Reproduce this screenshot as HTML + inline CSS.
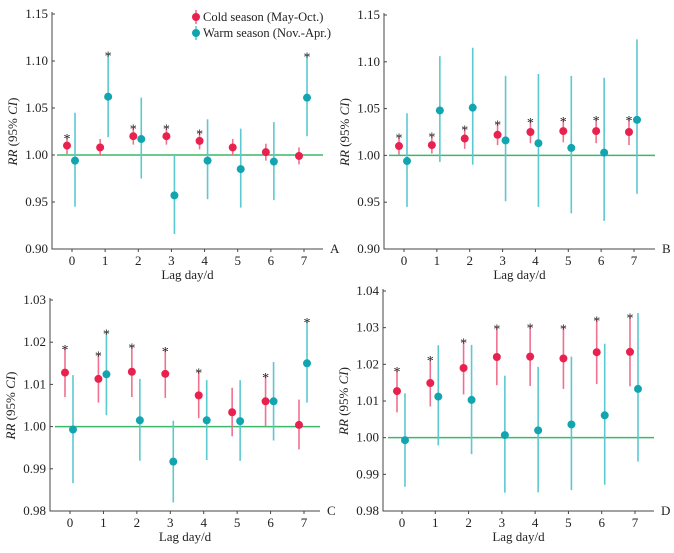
<!DOCTYPE html>
<html><head><meta charset="utf-8"><style>
body{margin:0;background:#fff}
svg text{font-family:"Liberation Serif","Times New Roman",serif;fill:#222}
</style></head><body>
<svg id="c" width="674" height="548" font-family="Liberation Serif, serif"></svg>
<script>
const lags=[0,1,2,3,4,5,6,7];
const aColdM=[1.010,1.008,1.020,1.020,1.015,1.008,1.003,0.999];
const aColdL=[1.001,0.999,1.011,1.011,1.006,0.999,0.994,0.990];
const aColdH=[1.019,1.017,1.029,1.029,1.024,1.017,1.012,1.008];
const aColdS=[1,0,1,1,1,0,0,0];
const aWarmM=[0.994,1.062,1.017,0.957,0.994,0.985,0.993,1.061];
const aWarmL=[0.945,1.019,0.975,0.916,0.953,0.944,0.952,1.020];
const aWarmH=[1.045,1.107,1.061,1.000,1.038,1.028,1.035,1.106];
const aWarmS=[0,1,0,0,0,0,0,1];
const bColdM=[1.010,1.011,1.018,1.022,1.025,1.026,1.026,1.025];
const bColdL=[1.001,1.002,1.007,1.011,1.013,1.014,1.013,1.011];
const bColdH=[1.020,1.021,1.029,1.034,1.037,1.038,1.039,1.039];
const bColdS=[1,1,1,1,1,1,1,1];
const bWarmM=[0.994,1.048,1.051,1.016,1.013,1.008,1.003,1.038];
const bWarmL=[0.945,0.993,0.990,0.951,0.945,0.938,0.930,0.959];
const bWarmH=[1.045,1.106,1.115,1.085,1.087,1.085,1.083,1.124];
const bWarmS=[0,0,0,0,0,0,0,0];
const cColdM=[1.0128,1.0113,1.0130,1.0125,1.0074,1.0034,1.0060,1.0004];
const cColdL=[1.0070,1.0057,1.0070,1.0068,1.0020,0.9977,1.0001,0.9946];
const cColdH=[1.0186,1.0171,1.0190,1.0182,1.0131,1.0092,1.0120,1.0064];
const cColdS=[1,1,1,1,1,0,1,0];
const cWarmM=[0.9993,1.0124,1.0015,0.9917,1.0015,1.0013,1.0060,1.0150];
const cWarmL=[0.9866,1.0027,0.9919,0.9820,0.9921,0.9919,0.9967,1.0057];
const cWarmH=[1.0122,1.0223,1.0113,1.0014,1.0110,1.0110,1.0153,1.0250];
const cWarmS=[0,1,0,0,0,0,0,1];
const dColdM=[1.0127,1.0149,1.0190,1.0220,1.0221,1.0216,1.0233,1.0234];
const dColdL=[1.0069,1.0085,1.0118,1.0143,1.0141,1.0133,1.0146,1.0140];
const dColdH=[1.0184,1.0214,1.0262,1.0300,1.0303,1.0301,1.0322,1.0330];
const dColdS=[1,1,1,1,1,1,1,1];
const dWarmM=[0.9993,1.0112,1.0103,1.0007,1.0020,1.0036,1.0061,1.0133];
const dWarmL=[0.9866,0.9979,0.9955,0.9850,0.9851,0.9857,0.9872,0.9935];
const dWarmH=[1.0121,1.0252,1.0253,1.0169,1.0193,1.0221,1.0256,1.0340];
const dWarmS=[0,0,0,0,0,0,0,0];
const abTicks=["0.90","0.95","1.00","1.05","1.10","1.15"];
const cTicks=["0.98","0.99","1.00","1.01","1.02","1.03"];
const dTicks=["0.98","0.99","1.00","1.01","1.02","1.03","1.04"];

const svg=document.getElementById('c');
const NS="http://www.w3.org/2000/svg";
function mk(tag,attrs,parent){const e=document.createElementNS(NS,tag);for(const k in attrs)e.setAttribute(k,attrs[k]);if(tag==='text'){e.setAttribute('font-family','Liberation Serif, serif');}(parent||svg).appendChild(e);return e;}
const RED="#e8214f",REDL="#f07090",TEAL="#12a5b0",TEALL="#5cc8d0";

function panel(id,P,ticks,cm,cl,ch,cs,wm,wl,wh,ws,letter,legend){
  const g=mk('g',{});
  
  
  const y0=+ticks[0],y1=+ticks[ticks.length-1];
  const Y=v=>P.yb-(v-y0)/(y1-y0)*(P.yb-P.yt);
  const X=i=>P.x0+i*(P.x7-P.x0)/7;
  const ax=mk('path',{d:`M${P.ax} ${P.yt-2}V${P.yb}H${P.ae}`,stroke:'#444',fill:'none','stroke-width':1},g);
  
  ticks.forEach(t=>{const y=Y(+t);
    mk('line',{x1:P.ax,x2:P.ax+3,y1:y,y2:y,stroke:'#444'},g);
    const tx=mk('text',{x:P.ax-4,y:y+4,'text-anchor':'end','font-size':13},g);tx.textContent=t;
    });
  lags.forEach(i=>{const x=X(i);
    mk('line',{x1:x,x2:x,y1:P.yb,y2:P.yb+3,stroke:'#444'},g);
    const tx=mk('text',{x:x,y:P.yb+16,'text-anchor':'middle','font-size':13},g);tx.textContent=i;
    });
  const rl=mk('line',{x1:P.ax+5,x2:P.ae,y1:Y(1),y2:Y(1),stroke:'#3cb86a','stroke-width':1.5},g);
  
  const xl=mk('text',{x:(P.ax+P.ae)/2,y:P.yb+30,'text-anchor':'middle','font-size':13},g);xl.textContent='Lag day/d';
  
  const yl=mk('text',{transform:`translate(${P.ax-35},${(P.yt+P.yb)/2}) rotate(-90)`,'text-anchor':'middle','font-size':13},g);
  yl.innerHTML='<tspan font-style="italic">RR</tspan> (95% <tspan font-style="italic">CI</tspan>)';
  
  const lt=mk('text',{x:P.ae+7,y:P.yb+4,'font-size':13},g);lt.textContent=letter;
  
  function series(m,l,h,s,off,col,coll,name){
    lags.forEach(i=>{const x=X(i)+off;
      const e=mk('line',{x1:x,x2:x,y1:Y(l[i]),y2:Y(h[i]),stroke:coll,'stroke-width':1.6},g);
      
      const c=mk('circle',{cx:x,cy:Y(m[i]),r:4,fill:col},g);
      
      if(s[i]){const st=mk('text',{x:x,y:Y(h[i])+6,'text-anchor':'middle','font-size':14,fill:'#555'},g);st.textContent='*';
        }
    });
  }
  series(cm,cl,ch,cs,-5,RED,REDL,'cold');
  series(wm,wl,wh,ws,3,TEAL,TEALL,'warm');
  if(legend){
    [[RED,REDL,'Cold season (May-Oct.)',17],[TEAL,TEALL,'Warm season (Nov.-Apr.)',33]].forEach(([c,cl2,t,y],k)=>{
      const lg=mk('g',{},g);
      mk('line',{x1:196,x2:196,y1:y-7,y2:y+7,stroke:cl2,'stroke-width':1.6},lg);
      mk('circle',{cx:196,cy:y,r:4,fill:c},lg);
      const tx=mk('text',{x:203,y:y+4,'font-size':12.5},lg);tx.textContent=t;});
  }
}
panel('a',{ax:52,ae:323,yt:14,yb:249,x0:72,x7:304},abTicks,aColdM,aColdL,aColdH,aColdS,aWarmM,aWarmL,aWarmH,aWarmS,'A',true);
panel('b',{ax:384,ae:655,yt:15,yb:249,x0:404,x7:634},abTicks,bColdM,bColdL,bColdH,bColdS,bWarmM,bWarmL,bWarmH,bWarmS,'B',false);
panel('c',{ax:50,ae:320,yt:300,yb:511,x0:70,x7:304},cTicks,cColdM,cColdL,cColdH,cColdS,cWarmM,cWarmL,cWarmH,cWarmS,'C',false);
panel('d',{ax:383,ae:654,yt:291,yb:511,x0:402,x7:635},dTicks,dColdM,dColdL,dColdH,dColdS,dWarmM,dWarmL,dWarmH,dWarmS,'D',false);
</script>
</body></html>
